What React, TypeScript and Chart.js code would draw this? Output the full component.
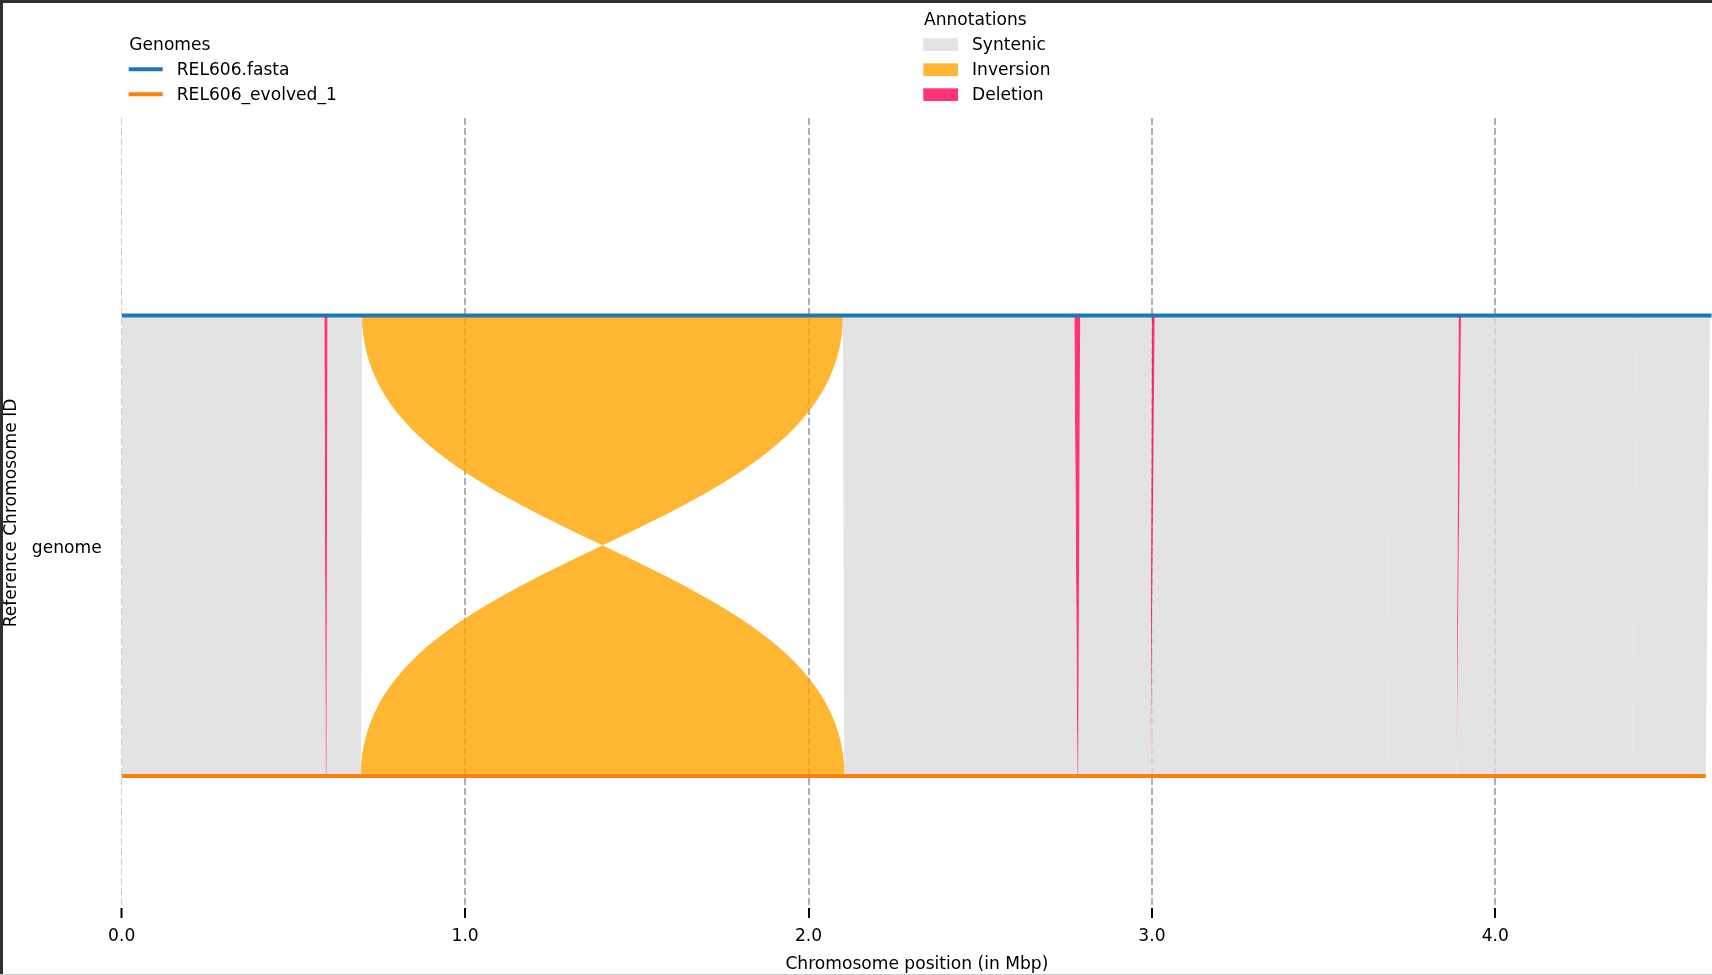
import React, { useEffect, useRef } from "react";
import { Chart, registerables } from "chart.js";

Chart.register(...registerables);

// ---------- data (Mbp) ----------
const genomeLabels = ["REL606.fasta", "REL606_evolved_1"];
const genomeColors = ["#1f77b4", "#ff7f0e"];
const genomeLengthsMbp = [4.6298, 4.613];
const genomeRows = [1, 0]; // reference on top, query below

const annotationLabels = ["Syntenic", "Inversion", "Deletion"];
const annotationFills = ["rgba(220,220,220,0.8)", "rgba(255,165,0,0.8)", "rgba(255,0,85,0.8)"];
const annotationPatches = ["#e3e3e3", "#ffb733", "#ff3377"];

const blockTypes = [
  "Syntenic", "Deletion", "Syntenic", "Inversion", "Syntenic", "Deletion", "Syntenic",
  "Deletion", "Syntenic", "Syntenic", "Deletion", "Syntenic", "Syntenic",
];
const refStarts = [0.0, 0.590, 0.599, 0.700, 2.100, 2.774, 2.791, 3.000, 3.008, 3.694, 3.893, 3.900, 4.413];
const refEnds = [0.590, 0.599, 0.700, 2.100, 2.774, 2.791, 3.000, 3.008, 3.694, 3.893, 3.900, 4.413, 4.625];
const qryStarts = [0.0, 0.594, 0.596, 2.105, 2.104, 2.783, 2.785, 2.995, 2.996, 3.685, 3.886, 3.887, 4.398];
const qryEnds = [0.594, 0.596, 0.697, 0.696, 2.783, 2.785, 2.995, 2.996, 3.685, 3.886, 3.887, 4.398, 4.613];

const xTickValues = [0, 1, 2, 3, 4];
const xTickLabels = ["0.0", "1.0", "2.0", "3.0", "4.0"];
const yCategories = ["genome"];
const xAxisTitle = "Chromosome position (in Mbp)";
const yAxisTitle = "Reference Chromosome ID";
const genomesLegendTitle = "Genomes";
const annotationsLegendTitle = "Annotations";

// ---------- geometry helpers ----------
const FONT = "'DejaVu Sans', 'Liberation Sans', sans-serif";
const FS = 17.1;

// edge between top position and bottom position; curved (cubic Bézier) for inversions
function edge(xTop: number, xBottom: number, fromTop: boolean, n: number) {
  const pts: { x: number; y: number }[] = [];
  for (let i = 1; i <= n; i++) {
    const s = i / n;
    const t = fromTop ? s : 1 - s;
    if (n === 1) {
      pts.push(fromTop ? { x: xBottom, y: 0 } : { x: xTop, y: 1 });
      continue;
    }
    const x = xTop + (xBottom - xTop) * (3 * t * t - 2 * t * t * t);
    const y = Math.pow(1 - t, 3) + 1.5 * t * (1 - t);
    pts.push({ x, y });
  }
  return pts;
}

function ribbon(rs: number, re: number, qs: number, qe: number, curved: boolean) {
  const n = curved ? 60 : 1;
  const pts = [{ x: rs, y: 1 }, { x: re, y: 1 }];
  pts.push(...edge(re, qe, true, n));
  pts.push({ x: qs, y: 0 });
  pts.push(...edge(rs, qs, false, n));
  return pts;
}

const dualLegend = {
  id: "dualLegend",
  afterDraw(chart: any) {
    const ctx = chart.ctx as CanvasRenderingContext2D;
    ctx.save();
    ctx.font = `${FS}px ${FONT}`;
    ctx.fillStyle = "#000";
    ctx.textBaseline = "middle";
    ctx.textAlign = "left";
    // Genomes
    ctx.fillText(genomesLegendTitle, 129.3, 45.6);
    genomeLabels.forEach((lab, i) => {
      const y = 69.3 + 25 * i;
      ctx.strokeStyle = genomeColors[i];
      ctx.lineWidth = 4;
      ctx.beginPath();
      ctx.moveTo(128.7, y);
      ctx.lineTo(162.7, y);
      ctx.stroke();
      ctx.fillStyle = "#000";
      ctx.fillText(lab, 176.7, y + 1.5);
    });
    // Annotations
    ctx.fillText(annotationsLegendTitle, 924, 20.8);
    annotationLabels.forEach((lab, i) => {
      const y = 44.6 + 25 * i;
      ctx.fillStyle = annotationPatches[i];
      ctx.fillRect(923.3, y - 6.3, 34.7, 12.7);
      ctx.fillStyle = "#000";
      ctx.fillText(lab, 972, y + 1.2);
    });
    ctx.restore();
  },
};

export default function App() {
  const ref = useRef<HTMLCanvasElement | null>(null);

  useEffect(() => {
    if (!ref.current) return;
    Chart.defaults.font.family = FONT;
    Chart.defaults.font.size = FS;
    Chart.defaults.color = "#000";

    const genomeSets = genomeLabels.map((lab, i) => ({
      label: lab,
      data: [
        { x: 0, y: genomeRows[i] },
        { x: genomeLengthsMbp[i], y: genomeRows[i] },
      ],
      borderColor: genomeColors[i],
      backgroundColor: genomeColors[i],
      borderWidth: 4,
      borderCapStyle: "butt" as const,
      pointRadius: 0,
      fill: false,
    }));

    const blockSets = blockTypes.map((t, i) => {
      const k = annotationLabels.indexOf(t);
      return {
        label: t,
        data: ribbon(refStarts[i], refEnds[i], qryStarts[i], qryEnds[i], t === "Inversion"),
        borderColor: "rgba(0,0,0,0)",
        borderWidth: 0,
        backgroundColor: annotationFills[k],
        pointRadius: 0,
        fill: "shape" as any,
      };
    });

    const chart = new Chart(ref.current, {
      type: "line",
      data: { datasets: [...genomeSets, ...blockSets] as any },
      options: {
        responsive: false,
        animation: false,
        devicePixelRatio: 1,
        events: [],
        layout: { padding: { top: 118, left: 0, right: 0, bottom: 0 } },
        plugins: {
          legend: { display: false },
          tooltip: { enabled: false },
          title: { display: false },
        },
        scales: {
          x: {
            type: "linear",
            min: 0,
            max: 4.631,
            position: "bottom",
            afterFit: (s: any) => {
              s.height = 67;
            },
            afterBuildTicks: (s: any) => {
              s.ticks = xTickValues.map((v) => ({ value: v }));
            },
            ticks: {
              callback: (_v: any, i: number) => xTickLabels[i],
              color: "#000",
              font: { size: FS, family: FONT },
              padding: 8,
              maxRotation: 0,
              autoSkip: false,
            },
            grid: {
              color: (c: any) => (c.index === 0 ? "#cccccc" : "#b0b0b0"),
              lineWidth: (c: any) => (c.index === 0 ? 1 : 2),
              drawTicks: true,
              tickLength: 10,
              tickColor: "#000",
              tickWidth: 2,
              tickBorderDash: [],
            } as any,
            border: { display: false, dash: [7, 3] },
            title: {
              display: true,
              text: xAxisTitle,
              color: "#000",
              font: { size: FS, family: FONT },
              padding: { top: 0, bottom: 0 },
            },
          },
          y: {
            type: "linear",
            min: -0.2866,
            max: 1.4289,
            position: "left",
            afterFit: (s: any) => {
              s.width = 121.7;
            },
            afterBuildTicks: (s: any) => {
              s.ticks = [{ value: 0.5 }];
            },
            ticks: {
              callback: () => yCategories[0],
              color: "#000",
              font: { size: FS, family: FONT },
              padding: 20,
              labelOffset: 3,
            },
            grid: { display: false, drawTicks: false },
            border: { display: false },
            title: {
              display: true,
              text: yAxisTitle,
              color: "#000",
              font: { size: FS, family: FONT },
              padding: { top: 1.5, bottom: 0 },
            },
          },
        },
      },
      plugins: [dualLegend],
    });
    return () => chart.destroy();
  }, []);

  return (
    <div style={{ position: "fixed", left: 0, top: 0, width: 1712, height: 975, background: "#fff" }}>
      <canvas
        ref={ref}
        width={1712}
        height={975}
        style={{ position: "absolute", left: 0, top: 0, width: 1712, height: 975 }}
      />
      <div style={{ position: "absolute", left: 0, top: 0, width: 1712, height: 3, background: "#2f2f2f" }} />
      <div style={{ position: "absolute", left: 0, top: 0, width: 3, height: 975, background: "#2f2f2f" }} />
      <div style={{ position: "absolute", left: 0, top: 974, width: 1712, height: 1, background: "#cccccc" }} />
    </div>
  );
}
